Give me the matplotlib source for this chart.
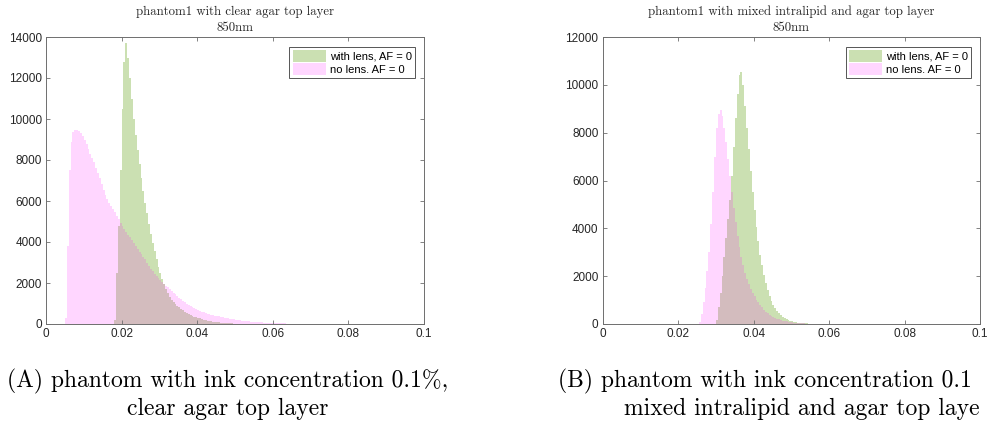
import numpy as np
import matplotlib
matplotlib.use("Agg")
import matplotlib.pyplot as plt
from matplotlib.patches import Patch

BIN_W = 0.0005

# ---- Panel A: clear agar top layer ----
a_nolens_start = 0.0050
a_nolens = [300, 3800, 7500, 8900, 9350, 9450, 9450, 9400, 9300, 9150,
            9000, 8800, 8550, 8300, 8100, 7900, 7600, 7350, 7100, 6850,
            6550, 6300, 6100, 5900, 5750, 5600, 5450, 5250, 5100, 4950,
            4800, 4650, 4500, 4350, 4250, 4100, 3950, 3800, 3650, 3500,
            3400, 3250, 3150, 3000, 2850, 2700, 2600, 2450, 2350, 2250,
            2150, 2050, 1950, 1870, 1800, 1700, 1600, 1520, 1450, 1360,
            1280, 1200, 1120, 1050, 980, 920, 860, 810, 760, 715,
            670, 635, 600, 570, 540, 510, 485, 460, 435, 410,
            390, 370, 350, 330, 310, 290, 270, 255, 240, 225,
            210, 195, 180, 170, 160, 150, 140, 130, 120, 110,
            100, 95, 90, 80, 75, 70, 65, 60, 55, 50,
            45, 40, 38, 35, 30, 28, 25, 22, 20, 18,
            15, 13, 11, 10, 8, 6, 5, 4, 3, 2]

a_lens_start = 0.0180
a_lens = [200, 2500, 4800, 7500, 10500, 12800, 13700, 13000, 12000, 11000,
          10000, 9200, 8500, 7800, 7100, 6500, 5900, 5400, 4900, 4400,
          3950, 3550, 3150, 2800, 2500, 2200, 1950, 1700, 1500, 1320,
          1170, 1070, 1000, 900, 815, 735, 665, 600, 545, 490,
          445, 400, 360, 330, 300, 270, 240, 215, 190, 170,
          150, 130, 115, 100, 88, 76, 66, 57, 49, 42,
          36, 31, 26, 22, 18, 15, 12, 10, 8, 6,
          5, 4, 3, 2, 2]

# ---- Panel B: mixed intralipid and agar top layer ----
b_nolens_start = 0.0255
b_nolens = [100, 400, 900, 1500, 2200, 3000, 4200, 5500, 7000, 8200,
            8800, 8950, 8700, 8200, 7600, 6900, 6200, 5500, 4850, 4250,
            3700, 3200, 2800, 2450, 2150, 1900, 1680, 1480, 1300, 1150,
            1020, 900, 790, 690, 600, 520, 450, 390, 340, 295,
            255, 220, 190, 165, 142, 122, 105, 90, 77, 66,
            56, 48, 40, 34, 28, 23, 19, 15, 12, 9,
            7, 5, 4, 3, 2]

b_lens_start = 0.0300
b_lens = [150, 700, 1300, 2000, 2800, 3600, 4400, 5200, 6200, 7400,
          8600, 9600, 10400, 10550, 10000, 9100, 8200, 7300, 6400, 5500,
          4750, 4050, 3450, 2900, 2450, 2050, 1700, 1420, 1180, 980,
          810, 670, 550, 450, 370, 305, 250, 205, 168, 138,
          113, 92, 75, 61, 50, 40, 32, 26, 21, 17,
          13, 10, 8, 6, 4, 3, 2]

titles = ["phantom1 with clear agar top layer\n850nm",
          "phantom1 with mixed intralipid and agar top layer\n850nm"]
caption_a = ["(A) phantom with ink concentration 0.1%,", "clear agar top layer"]
# the reference image is cropped at its right edge; only this part is visible
caption_b = ["(B) phantom with ink concentration 0.1", "mixed intralipid and agar top laye"]
legend_labels = ["with lens, AF = 0", "no lens. AF = 0"]
x_ticks = [0, 0.02, 0.04, 0.06, 0.08, 0.1]
x_ticklabels = ["0", "0.02", "0.04", "0.06", "0.08", "0.1"]
y_max = [14000, 12000]

GREEN = (0.42, 0.66, 0.14)
GREEN_A = 0.35
PINK = (1.0, 0.0, 1.0)
PINK_A = 0.16
AX_COL = "#6e6e6e"
TICK_FONT = ["Liberation Sans", "DejaVu Sans"]
SERIF = ["cmr10", "DejaVu Serif"]

fig = plt.figure(figsize=(9.89, 4.34), dpi=100)
positions = [[46 / 989, 110 / 434, 378 / 989, 287 / 434],
             [602.7 / 989, 110 / 434, 377.3 / 989, 287 / 434]]

panels = [(a_lens_start, a_lens, a_nolens_start, a_nolens),
          (b_lens_start, b_lens, b_nolens_start, b_nolens)]

for i, (ls, lv, ns, nv) in enumerate(panels):
    ax = fig.add_axes(positions[i])
    l_edges = ls + BIN_W * np.arange(len(lv) + 1)
    n_edges = ns + BIN_W * np.arange(len(nv) + 1)
    ax.stairs(lv, l_edges, fill=True, color=GREEN, alpha=GREEN_A, linewidth=0)
    ax.stairs(nv, n_edges, fill=True, color=PINK, alpha=PINK_A, linewidth=0)
    ax.set_xlim(0, 0.1)
    ax.set_ylim(0, y_max[i])
    ax.set_xticks(x_ticks)
    ax.set_xticklabels(x_ticklabels)
    yt = np.arange(0, y_max[i] + 1, 2000)
    ax.set_yticks(yt)
    ax.set_yticklabels([str(int(v)) for v in yt])
    ax.tick_params(direction="in", top=True, right=True, length=3,
                   width=0.6, color=AX_COL, labelsize=8.5,
                   labelcolor="#262626", pad=3)
    for lab in ax.get_xticklabels() + ax.get_yticklabels():
        lab.set_family(TICK_FONT)
    for sp in ax.spines.values():
        sp.set_color(AX_COL)
        sp.set_linewidth(0.7)
    ax.set_title(titles[i], fontsize=9.2, family=SERIF, pad=4,
                 linespacing=1.45, color="#262626")
    handles = [Patch(facecolor=GREEN, alpha=GREEN_A, linewidth=0),
               Patch(facecolor=PINK, alpha=PINK_A, linewidth=0)]
    leg = ax.legend(handles, legend_labels, loc="upper right",
                    bbox_to_anchor=(0.976, 0.964),
                    prop={"family": TICK_FONT, "size": 8.0},
                    handlelength=3.0, handleheight=1.2, handletextpad=0.35,
                    borderpad=0.28, borderaxespad=0, labelspacing=0.12,
                    fancybox=False, framealpha=1, edgecolor="#555555")
    leg.get_frame().set_linewidth(0.7)

CAP_FS = 17
fig.text(228 / 989, 1 - 381 / 434, caption_a[0], ha="center",
         va="center", family=SERIF, fontsize=CAP_FS)
fig.text(228 / 989, 1 - 409 / 434, caption_a[1], ha="center",
         va="center", family=SERIF, fontsize=CAP_FS)
fig.text(558 / 989, 1 - 381 / 434, caption_b[0], ha="left",
         va="center", family=SERIF, fontsize=CAP_FS)
fig.text(624 / 989, 1 - 409 / 434, caption_b[1], ha="left",
         va="center", family=SERIF, fontsize=CAP_FS)

fig.savefig("out.png", dpi=100)
